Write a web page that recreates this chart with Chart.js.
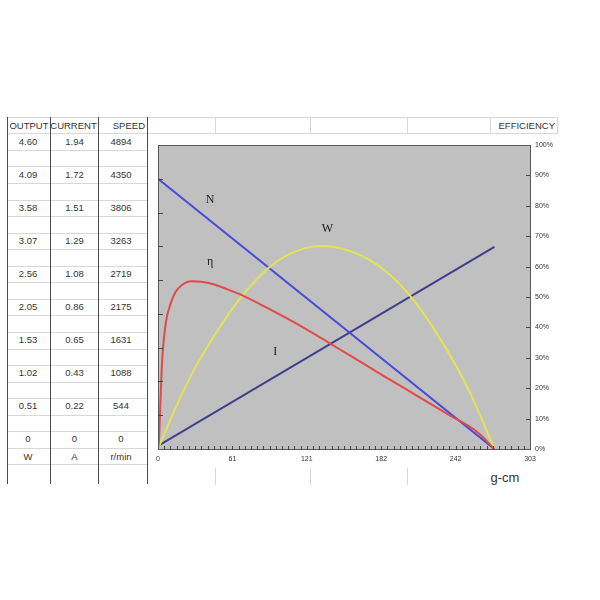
<!DOCTYPE html>
<html><head><meta charset="utf-8">
<script src="https://cdn.jsdelivr.net/npm/chart.js@4.4.1/dist/chart.umd.min.js"></script>
<style>
html,body{margin:0;padding:0;background:#fff;width:600px;height:600px;overflow:hidden;}
#wrap{position:relative;width:600px;height:600px;}
.ln{position:absolute;}
.tx{position:absolute;font-family:"Liberation Sans",Arial,sans-serif;font-size:9.5px;color:#333;line-height:12px;height:12px;white-space:nowrap;}
canvas{position:absolute;left:0;top:0;}
</style></head><body>
<div id="wrap"><div id="sheet"></div><canvas id="c" width="600" height="600"></canvas></div>
<script>
// ---- table data ----
const tableHeaders = ['OUTPUT', 'CURRENT', 'SPEED'];
const outputCol = ['4.60','4.09','3.58','3.07','2.56','2.05','1.53','1.02','0.51','0'];
const currentCol = ['1.94','1.72','1.51','1.29','1.08','0.86','0.65','0.43','0.22','0'];
const speedCol = ['4894','4350','3806','3263','2719','2175','1631','1088','544','0'];
const unitsRow = ['W','A','r/min'];

// ---- chart data (torque in g-cm) ----
const xTickLabels = ['0','61','121','182','242','303'];
const speedTorque = [0, 274];
const speedValues = [4350, 0];
const currentTorque = [0, 274];
const currentValues = [0.02, 1.29];
const outputTorque = [0,15,30,45,60,75,90,105,120,135,150,165,180,195,210,225,240,255,274];
const outputValues = [0,0.65,1.22,1.69,2.11,2.46,2.74,2.93,3.04,3.07,3.03,2.93,2.77,2.53,2.21,1.81,1.35,0.82,0];
const effTorque = [0,0.8,1.6,2.4,3.5,5,7,10,14,19,27,35,45,56,70,89,116,139,157,184,211,238,260,274];
const effValues = [0,3,11,20,30,37,43,47.5,51.5,53.8,55.2,55.0,54.2,52.6,50.3,46.4,40.5,35.0,30.6,24.0,17.5,11.0,5.6,0];
const curveNames = ['N','W','η','I'];

// ---- spreadsheet drawing ----
const sheet = document.getElementById('sheet');
function line(x,y,w,h,c){const d=document.createElement('div');d.className='ln';d.style.cssText=`left:${x}px;top:${y}px;width:${w}px;height:${h}px;background:${c}`;sheet.appendChild(d);}
function text(s,x,y,align,w,extra){const d=document.createElement('div');d.className='tx';d.textContent=s;
  let left=x; if(align==='center'){left=x-w/2;} else if(align==='right'){left=x-w;}
  d.style.cssText+=`left:${left}px;top:${y-6}px;width:${w}px;text-align:${align};`+(extra||'');sheet.appendChild(d);}
const rowH = 16.55, row0 = 116.8;
for(let k=0;k<=21;k++){const y=Math.round(row0+rowH*k); if(k<=1) line(7,y,551,1,'#d8d8d8'); else line(7,y,140,1,'#d8d8d8');}
[215,310,407,490,557].forEach(x=>line(x,117,1,17,'#d8d8d8'));
[215,310,407].forEach(x=>line(x,468,1,17,'#d8d8d8'));
[7,50,98,147].forEach(x=>line(x,117,1,367,'#4a4a4a'));
// headers
text(tableHeaders[0],29,126,'center',44);
text(tableHeaders[1],73.5,126,'center',48);
text(tableHeaders[2],145,126,'right',48);
text('EFFICIENCY',555,126,'right',80);
for(let i=0;i<outputCol.length;i++){
  const y=142+33.05*i;
  text(outputCol[i],28,y,'center',40);
  text(currentCol[i],74.5,y,'center',40);
  text(speedCol[i],121,y,'center',40);
}
text(unitsRow[0],28,457,'center',40);
text(unitsRow[1],74.5,457,'center',40);
text(unitsRow[2],121,457,'center',40);
text('g-cm',505,477,'center',60,'font-size:13px;line-height:14px;');

// ---- chart ----
const xs = (t,v)=>t.map((x,i)=>({x:x,y:v[i]}));
const annot = [
  {t:curveNames[0], x:42.5, y:82},
  {t:curveNames[1], x:138, y:72.5},
  {t:curveNames[2], x:42.5, y:61.5},
  {t:curveNames[3], x:95.5, y:32}
];
const decor = {
  id:'decor',
  beforeDraw(chart){const {ctx,chartArea:a}=chart;ctx.save();ctx.fillStyle='#c0c0c0';ctx.fillRect(a.left,a.top,a.right-a.left,a.bottom-a.top);ctx.restore();},
  afterDraw(chart){
    const {ctx,chartArea:a,scales}=chart;ctx.save();
    ctx.strokeStyle='#5a5a5a';ctx.lineWidth=1;
    ctx.strokeRect(Math.round(a.left)+0.5,Math.round(a.top)+0.5,Math.round(a.right-a.left),Math.round(a.bottom-a.top));
    ctx.strokeStyle='#444';
    ctx.beginPath();
    for(let i=1;i<9;i++){const y=Math.round(scales.yN.getPixelForDecimal(i/9))+0.5;ctx.moveTo(a.left,y);ctx.lineTo(a.left+5,y);}
    for(let v=10;v<100;v+=10){const y=Math.round(scales.yE.getPixelForValue(v))+0.5;ctx.moveTo(a.right-4,y);ctx.lineTo(a.right,y);}
    for(let i=1;i<60;i++){const x=Math.round(scales.x.getPixelForDecimal(i/60))+0.5;ctx.moveTo(x,a.bottom-3);ctx.lineTo(x,a.bottom+1);}
    ctx.stroke();
    ctx.fillStyle='#1a1a1a';ctx.font='12px "Liberation Serif", serif';ctx.textAlign='center';ctx.textBaseline='middle';
    annot.forEach(o=>ctx.fillText(o.t,scales.x.getPixelForValue(o.x),scales.yE.getPixelForValue(o.y)));
    ctx.restore();
  }
};
const tickFont = {family:'"Liberation Sans", Arial, sans-serif', size:7};
new Chart(document.getElementById('c'),{
  type:'line',
  data:{datasets:[
    {label:'η',data:xs(effTorque,effValues),yAxisID:'yE',borderColor:'#e04a4a',cubicInterpolationMode:'monotone'},
    {label:'W',data:xs(outputTorque,outputValues),yAxisID:'yP',borderColor:'#e4e452',cubicInterpolationMode:'monotone'},
    {label:'N',data:xs(speedTorque,speedValues),yAxisID:'yN',borderColor:'#4848dc'},
    {label:'I',data:xs(currentTorque,currentValues),yAxisID:'yI',borderColor:'#3e3e8e'}
  ]},
  options:{
    responsive:false,animation:false,devicePixelRatio:1,
    layout:{padding:{left:158,top:145,right:30,bottom:131}},
    elements:{point:{radius:0},line:{borderWidth:2}},
    plugins:{legend:{display:false},tooltip:{enabled:false}},
    scales:{
      x:{type:'linear',min:0,max:303,position:'bottom',
        afterBuildTicks:s=>{s.ticks=xTickLabels.map((l,i)=>({value:303*i/(xTickLabels.length-1)}));},
        afterFit:s=>{s.height=20;},
        grid:{display:false,drawTicks:false},border:{display:false},
        ticks:{autoSkip:false,maxRotation:0,padding:6,color:'#333',font:tickFont,callback:(v,i)=>xTickLabels[i]}},
      yE:{position:'right',min:0,max:100,
        afterFit:s=>{s.width=40;},
        grid:{display:false,drawTicks:false},border:{display:false},
        ticks:{stepSize:10,padding:5,color:'#333',font:tickFont,callback:v=>v+'%'}},
      yN:{position:'left',display:false,min:0,max:Number(speedCol[0])},
      yI:{position:'left',display:false,min:0,max:Number(currentCol[0])},
      yP:{position:'left',display:false,min:0,max:Number(outputCol[0])}
    }
  },
  plugins:[decor]
});
</script>
</body></html>
